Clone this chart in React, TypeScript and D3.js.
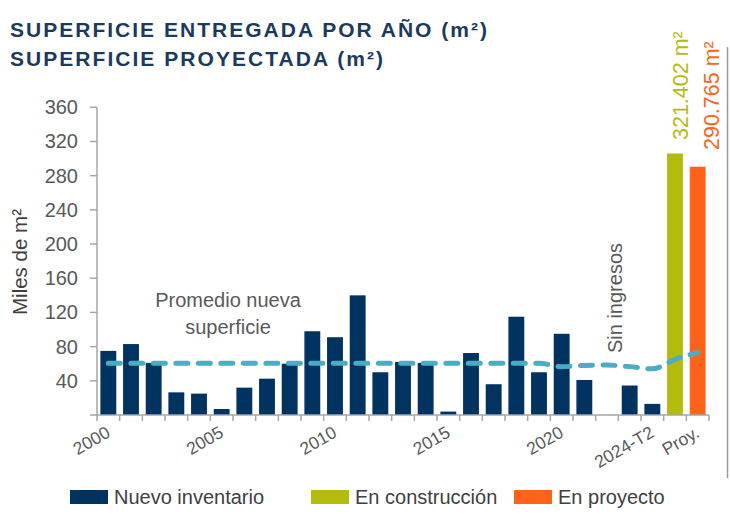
import React from 'react';
import * as d3 from 'd3';

// ---- Data ----
const categories = [
  '2000','2001','2002','2003','2004','2005','2006','2007','2008','2009',
  '2010','2011','2012','2013','2014','2015','2016','2017','2018','2019',
  '2020','2021','2022','2023','2024-T2','Const.','Proy.'
];
const xTickLabels: Record<string, string> = {
  '2000': '2000', '2005': '2005', '2010': '2010', '2015': '2015',
  '2020': '2020', '2024-T2': '2024-T2', 'Proy.': 'Proy.'
};
const nuevoInventario = [
  75, 83, 61, 26.5, 25, 7, 32, 42.5, 60, 98,
  91, 140, 50, 62, 61, 4, 72.5, 36, 115, 50,
  95, 41, 0, 34.5, 13
];
const enConstruccion = 306;
const enProyecto = 290.5;
const promedio = [
  60.5, 60.5, 60.5, 60.5, 60.5, 60.5, 60.5, 60.5, 60.5, 60.5,
  60.5, 60.5, 60.5, 60.5, 60.5, 60.5, 60.5, 60.5, 60.5, 60.5,
  56.5, 58, 58.4, 56.6, 54, 65, 73
];
const yTicks = [40, 80, 120, 160, 200, 240, 280, 320, 360];
const titleLines = ['SUPERFICIE ENTREGADA POR AÑO (m²)', 'SUPERFICIE PROYECTADA (m²)'];
const legendItems = [
  { label: 'Nuevo inventario', color: '#00335F' },
  { label: 'En construcción', color: '#B3BC0D' },
  { label: 'En proyecto', color: '#FF6319' },
];
const valueLabels = ['321.402 m²', '290.765 m²'];

const NAVY = '#00335F';
const GREEN = '#B3BC0D';
const ORANGE = '#FF6319';
const GRAY_TXT = '#595959';
const AXIS = '#A6A6A6';
const FONT = '"Liberation Sans", Arial, sans-serif';

export default function App() {
  const W = 730, H = 522;
  const x = d3.scaleBand<string>().domain(categories).range([97, 709]).paddingInner(0.3).paddingOuter(0.15);
  const y = d3.scaleLinear().domain([0, 360]).range([415, 107.3]);
  const step = x.step();
  const cx = (c: string) => (x(c) as number) + x.bandwidth() / 2;

  const line = d3.line<number>()
    .x((_, i) => cx(categories[i]))
    .y(d => y(d))
    .curve(d3.curveMonotoneX);

  const boundaries = d3.range(categories.length + 1).map(i => 97 + i * step);

  return (
    <svg width={W} height={H} style={{ position: 'absolute', left: 0, top: 0, background: '#fff' }} fontFamily={FONT}>
      {/* Title */}
      <text x={10} y={37} fontSize={21} fontWeight="bold" fill="#1B3A5E" textLength={477} lengthAdjust="spacing">{titleLines[0]}</text>
      <text x={10} y={66} fontSize={21} fontWeight="bold" fill="#1B3A5E" textLength={373} lengthAdjust="spacing">{titleLines[1]}</text>

      {/* right border line */}
      <line x1={727.5} x2={727.5} y1={47} y2={478} stroke="#9a9a9a" strokeWidth={1.5} />

      {/* Y axis */}
      <line x1={97} x2={97} y1={y(360)} y2={y(0)} stroke={AXIS} strokeWidth={1.5} />
      {[0, ...yTicks].map(t => (
        <line key={'yt' + t} x1={90} x2={97} y1={y(t)} y2={y(t)} stroke={AXIS} strokeWidth={1.5} />
      ))}
      {yTicks.map(t => (
        <text key={'yl' + t} x={78} y={y(t)} dy="0.35em" textAnchor="end" fontSize={20} fill={GRAY_TXT}>{t}</text>
      ))}
      <text transform={`translate(27,262) rotate(-90)`} textAnchor="middle" fontSize={20.5} fill="#404040">Miles de m²</text>

      {/* Bars */}
      {nuevoInventario.map((v, i) => (
        v > 0 ? <rect key={'b' + i} x={x(categories[i])} y={y(v)} width={x.bandwidth()} height={y(0) - y(v)} fill={NAVY} /> : null
      ))}
      <rect x={x('Const.')} y={y(enConstruccion)} width={x.bandwidth()} height={y(0) - y(enConstruccion)} fill={GREEN} />
      <rect x={x('Proy.')} y={y(enProyecto)} width={x.bandwidth()} height={y(0) - y(enProyecto)} fill={ORANGE} />

      {/* X axis */}
      <line x1={97} x2={709} y1={y(0)} y2={y(0)} stroke={AXIS} strokeWidth={1.5} />
      {boundaries.map((b, i) => (
        <line key={'xt' + i} x1={b} x2={b} y1={y(0)} y2={y(0) + 6} stroke={AXIS} strokeWidth={1.5} />
      ))}
      {categories.filter(c => xTickLabels[c]).map(c => (
        <text key={'xl' + c} transform={`translate(${cx(c) + 3},436) rotate(-30)`} textAnchor="end" fontSize={17.5} fill={GRAY_TXT}>{xTickLabels[c]}</text>
      ))}

      {/* Average dashed line */}
      <path d={line(promedio) || ''} fill="none" stroke="#4BACC6" strokeWidth={5} strokeDasharray="12 10.5" strokeLinecap="round" />

      {/* Annotations */}
      <text x={228} y={307} textAnchor="middle" fontSize={20} fill={GRAY_TXT}>Promedio nueva</text>
      <text x={228} y={334} textAnchor="middle" fontSize={20} fill={GRAY_TXT}>superficie</text>
      <text transform={`translate(622,298) rotate(-90)`} textAnchor="middle" fontSize={20} fill={GRAY_TXT}>Sin ingresos</text>

      {/* Value labels */}
      <text transform={`translate(688,140) rotate(-90)`} textAnchor="start" fontSize={21.5} fill={GREEN}>{valueLabels[0]}</text>
      <text transform={`translate(719,150) rotate(-90)`} textAnchor="start" fontSize={21.5} fill={ORANGE}>{valueLabels[1]}</text>

      {/* Legend */}
      {legendItems.map((it, i) => {
        const lx = [70, 311, 514][i];
        return (
          <g key={'lg' + i}>
            <rect x={lx} y={490} width={38} height={14} fill={it.color} />
            <text x={lx + 44} y={504} fontSize={20} fill="#404040">{it.label}</text>
          </g>
        );
      })}
    </svg>
  );
}
